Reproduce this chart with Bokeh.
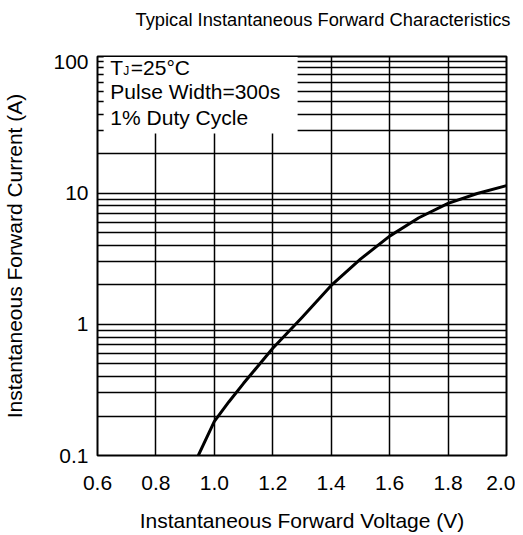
from bokeh.plotting import figure
from bokeh.models import (FixedTicker, CustomJSTickFormatter, BoxAnnotation, Label,
                          Range1d, ColumnDataSource, Title)
from bokeh.embed import file_html
from bokeh.resources import INLINE

# ---- data ----
voltage = [0.945, 1.0, 1.05, 1.1, 1.2, 1.3, 1.4, 1.5, 1.6, 1.7, 1.8, 1.9, 2.0]
current = [0.1, 0.182, 0.257, 0.355, 0.656, 1.127, 1.98, 3.14, 4.70, 6.49, 8.36, 9.93, 11.4]

x_ticks = [0.6, 0.8, 1.0, 1.2, 1.4, 1.6, 1.8, 2.0]
x_tick_labels = ["0.6", "0.8", "1.0", "1.2", "1.4", "1.6", "1.8", "2.0"]
y_ticks = [0.1, 1, 10, 100]
y_tick_labels = ["0.1", "1", "10", "100"]
y_minor = [m * d for d in (0.1, 1, 10) for m in range(2, 10)]

title_text = "Typical Instantaneous Forward Characteristics"
x_label = "Instantaneous Forward Voltage (V)"
y_label = "Instantaneous Forward Current (A)"
legend_lines = ["Pulse Width=300s", "1% Duty Cycle"]

FONT = "Liberation Sans"

p = figure(width=515, height=534, y_axis_type="log", title=None,
           x_range=Range1d(0.6, 2.0), y_range=Range1d(0.1, 110),
           output_backend="svg", toolbar_location=None,
           min_border_left=92, min_border_right=9, min_border_top=56, min_border_bottom=79)

# spacer between frame and title, then the title itself
p.add_layout(Title(text=" ", text_font=FONT, text_font_size="10px", standoff=14), "above")
p.add_layout(Title(text=title_text, align="right", offset=-4, standoff=0,
                   text_font=FONT, text_font_size="18.3px", text_font_style="normal",
                   text_color="black"), "above")

fmt_code = """
for (let i = 0; i < vals.length; i++) {
  if (Math.abs(vals[i] - tick) < 1e-9 * Math.max(1, Math.abs(vals[i]))) return labs[i];
}
return '';
"""
p.xaxis.ticker = FixedTicker(ticks=x_ticks, minor_ticks=[])
p.xaxis.formatter = CustomJSTickFormatter(args=dict(vals=x_ticks, labs=x_tick_labels), code=fmt_code)
p.yaxis.ticker = FixedTicker(ticks=y_ticks, minor_ticks=y_minor)
p.yaxis.formatter = CustomJSTickFormatter(args=dict(vals=y_ticks, labs=y_tick_labels), code=fmt_code)

for ax in (p.xaxis[0], p.yaxis[0]):
    ax.axis_line_color = None
    ax.major_tick_line_color = None
    ax.minor_tick_line_color = None
    ax.major_tick_out = 0
    ax.major_tick_in = 0
    ax.minor_tick_out = 0
    ax.minor_tick_in = 0
    ax.major_label_text_font = FONT
    ax.major_label_text_font_size = "21px"
    ax.major_label_text_color = "black"
    ax.axis_label_text_font = FONT
    ax.axis_label_text_font_size = "21px"
    ax.axis_label_text_font_style = "normal"
    ax.axis_label_text_color = "black"

p.xaxis.axis_label = x_label
p.yaxis.axis_label = y_label
p.xaxis.major_label_standoff = 20
p.xaxis.axis_label_standoff = 16
p.yaxis.major_label_standoff = 9
p.yaxis.axis_label_standoff = 24

p.xgrid.grid_line_color = "black"
p.xgrid.grid_line_width = 1.5
p.ygrid.grid_line_color = "black"
p.ygrid.grid_line_width = 1.5
p.ygrid.minor_grid_line_color = "black"
p.ygrid.minor_grid_line_width = 1.5

p.outline_line_color = "black"
p.outline_line_width = 2
p.background_fill_color = "white"
p.border_fill_color = "white"

src = ColumnDataSource(dict(v=voltage, i=current))
p.line("v", "i", source=src, line_width=3, line_color="black", line_join="round")

# white legend panel
p.add_layout(BoxAnnotation(left=0.621, right=1.285, bottom=28.5, top=109,
                           fill_color="white", fill_alpha=1.0, line_color=None))

p.add_layout(Label(x=0.644, y=91.0, text="T", text_font=FONT, text_font_size="21px",
                   text_color="black", text_baseline="alphabetic"))
p.add_layout(Label(x=0.688, y=84.8, text="J", text_font=FONT, text_font_size="12px",
                   text_color="black", text_baseline="alphabetic"))
p.add_layout(Label(x=0.714, y=91.0, text="=25°C", text_font=FONT, text_font_size="21px",
                   text_color="black", text_baseline="alphabetic"))
p.add_layout(Label(x=0.644, y=59.9, text=legend_lines[0], text_font=FONT, text_font_size="21px",
                   text_color="black", text_baseline="alphabetic"))
p.add_layout(Label(x=0.644, y=37.5, text=legend_lines[1], text_font=FONT, text_font_size="21px",
                   text_color="black", text_baseline="alphabetic"))

open("out.html", "w").write(file_html(p, INLINE))
